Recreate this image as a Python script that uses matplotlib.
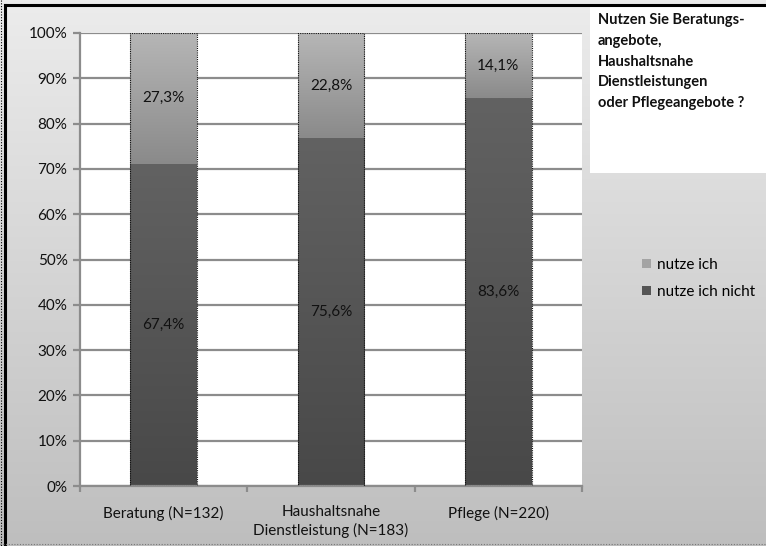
import numpy as np
import matplotlib.pyplot as plt
from matplotlib.patches import Rectangle
from matplotlib.lines import Line2D
from matplotlib.colors import LinearSegmentedColormap

plt.rcParams['font.family'] = ['Lato', 'DejaVu Sans']

categories = ['Beratung (N=132)', 'Haushaltsnahe\nDienstleistung (N=183)', 'Pflege (N=220)']
nutze_ich = [27.3, 22.8, 14.1]
nutze_ich_nicht = [67.4, 75.6, 83.6]
y_ticks = [0, 10, 20, 30, 40, 50, 60, 70, 80, 90, 100]
title_lines = ['Nutzen Sie Beratungs-', 'angebote,', 'Haushaltsnahe', 'Dienstleistungen',
               'oder Pflegeangebote ?']

W, H = 766, 546
fig = plt.figure(figsize=(W / 100, H / 100), dpi=100)

# gray gradient behind everything
bg = fig.add_axes([0, 0, 1, 1], zorder=-10)
bg.imshow(np.linspace(0, 1, 256).reshape(-1, 1), aspect='auto', extent=[0, 1, 0, 1],
          cmap=LinearSegmentedColormap.from_list('bg', ['#ececec', '#bebebe']))
bg.set_axis_off()

ax = fig.add_axes([80 / W, 1 - 486 / H, (582 - 80) / W, (486 - 33) / H])
ax.set_facecolor('white')

# bars are shown as shares of the answered total
total = np.array(nutze_ich) + np.array(nutze_ich_nicht)
bottom_share = np.array(nutze_ich_nicht) / total * 100
top_share = np.array(nutze_ich) / total * 100
x = np.arange(len(categories))
width = 0.4

cm_dark = LinearSegmentedColormap.from_list('dark', ['#484848', '#626262'])
cm_light = LinearSegmentedColormap.from_list('light', ['#8a8a8a', '#b6b6b6'])
grad = np.linspace(0, 1, 256).reshape(-1, 1)


def gradient_bar(xc, y0, h, cmap):
    patch = Rectangle((xc - width / 2, y0), width, h, facecolor='none',
                      edgecolor='none', zorder=3)
    ax.add_patch(patch)
    im = ax.imshow(grad, aspect='auto', cmap=cmap, origin='lower',
                   extent=[xc - width / 2, xc + width / 2, y0, y0 + h], zorder=2)
    im.set_clip_path(patch)


for i in x:
    gradient_bar(i, 0, bottom_share[i], cm_dark)
    gradient_bar(i, bottom_share[i], top_share[i], cm_light)
    # dotted outline around the whole stack
    ax.add_patch(Rectangle((i - width / 2, 0), width, bottom_share[i] + top_share[i],
                           facecolor='none', edgecolor='#111111', linestyle=(0, (1, 1)),
                           linewidth=0.8, zorder=3))
    ax.text(i, bottom_share[i] / 2, f'{nutze_ich_nicht[i]:.1f}%'.replace('.', ','),
            ha='center', va='center', fontsize=11, color='#111111', zorder=4)
    ax.text(i, bottom_share[i] + top_share[i] / 2, f'{nutze_ich[i]:.1f}%'.replace('.', ','),
            ha='center', va='center', fontsize=11, color='#111111', zorder=4)

ax.set_xlim(-0.5, 2.5)
ax.set_ylim(0, 100)
ax.set_yticks(y_ticks)
ax.set_yticklabels([f'{t}%' for t in y_ticks], fontsize=11, color='#111111')
ax.yaxis.grid(True, color='#8c8c8c', linewidth=1.6)
ax.set_axisbelow(True)
ax.tick_params(axis='y', length=5, width=1.6, color='#8c8c8c', pad=4)

ax.set_xticks(x)
ax.set_xticklabels(categories, fontsize=11, color='#111111', linespacing=1.3)
ax.set_xticks([-0.5, 0.5, 1.5, 2.5], minor=True)
ax.tick_params(axis='x', which='major', length=0, pad=14)
ax.tick_params(axis='x', which='minor', length=4, width=1.6, color='#8c8c8c')

for side in ['top', 'right']:
    ax.spines[side].set_visible(False)
for side in ['left', 'bottom']:
    ax.spines[side].set_color('#8c8c8c')
    ax.spines[side].set_linewidth(1.6)

# legend
handles = [Rectangle((0, 0), 1, 1, facecolor='#a4a4a4'),
           Rectangle((0, 0), 1, 1, facecolor='#555555')]
fig.legend(handles, ['nutze ich', 'nutze ich nicht'], loc='upper left',
           bbox_to_anchor=(628 / W, 1 - 244 / H), frameon=False, fontsize=11,
           handlelength=0.6, handleheight=0.6, handletextpad=0.4, labelspacing=0.85)

# question box
fig.patches.append(Rectangle((590 / W, 1 - 173 / H), 1 - 590 / W, (173 - 6) / H,
                             transform=fig.transFigure, facecolor='white',
                             edgecolor='none', zorder=1))
fig.text(598 / W, 1 - 13 / H, '\n'.join(title_lines), ha='left', va='top',
         fontsize=10.5, fontweight='bold', color='#111111', linespacing=1.62)

# frame
fig.add_artist(Line2D([5 / W, 1], [1 - 5 / H, 1 - 5 / H], color='black', linewidth=2.2,
                      transform=fig.transFigure))
fig.add_artist(Line2D([5 / W, 5 / W], [1 - 5 / H, 1 - 545 / H], color='black', linewidth=2.2,
                      transform=fig.transFigure))
fig.add_artist(Line2D([1.2 / W, 1.2 / W], [1, 0], color='black', linewidth=0.8,
                      linestyle=(0, (1, 1.5)), transform=fig.transFigure))
fig.add_artist(Line2D([0, 1], [2.5 / H, 2.5 / H], color='#777777', linewidth=0.8,
                      linestyle=(0, (1, 1.5)), transform=fig.transFigure))

fig.savefig('out.png', dpi=100)
